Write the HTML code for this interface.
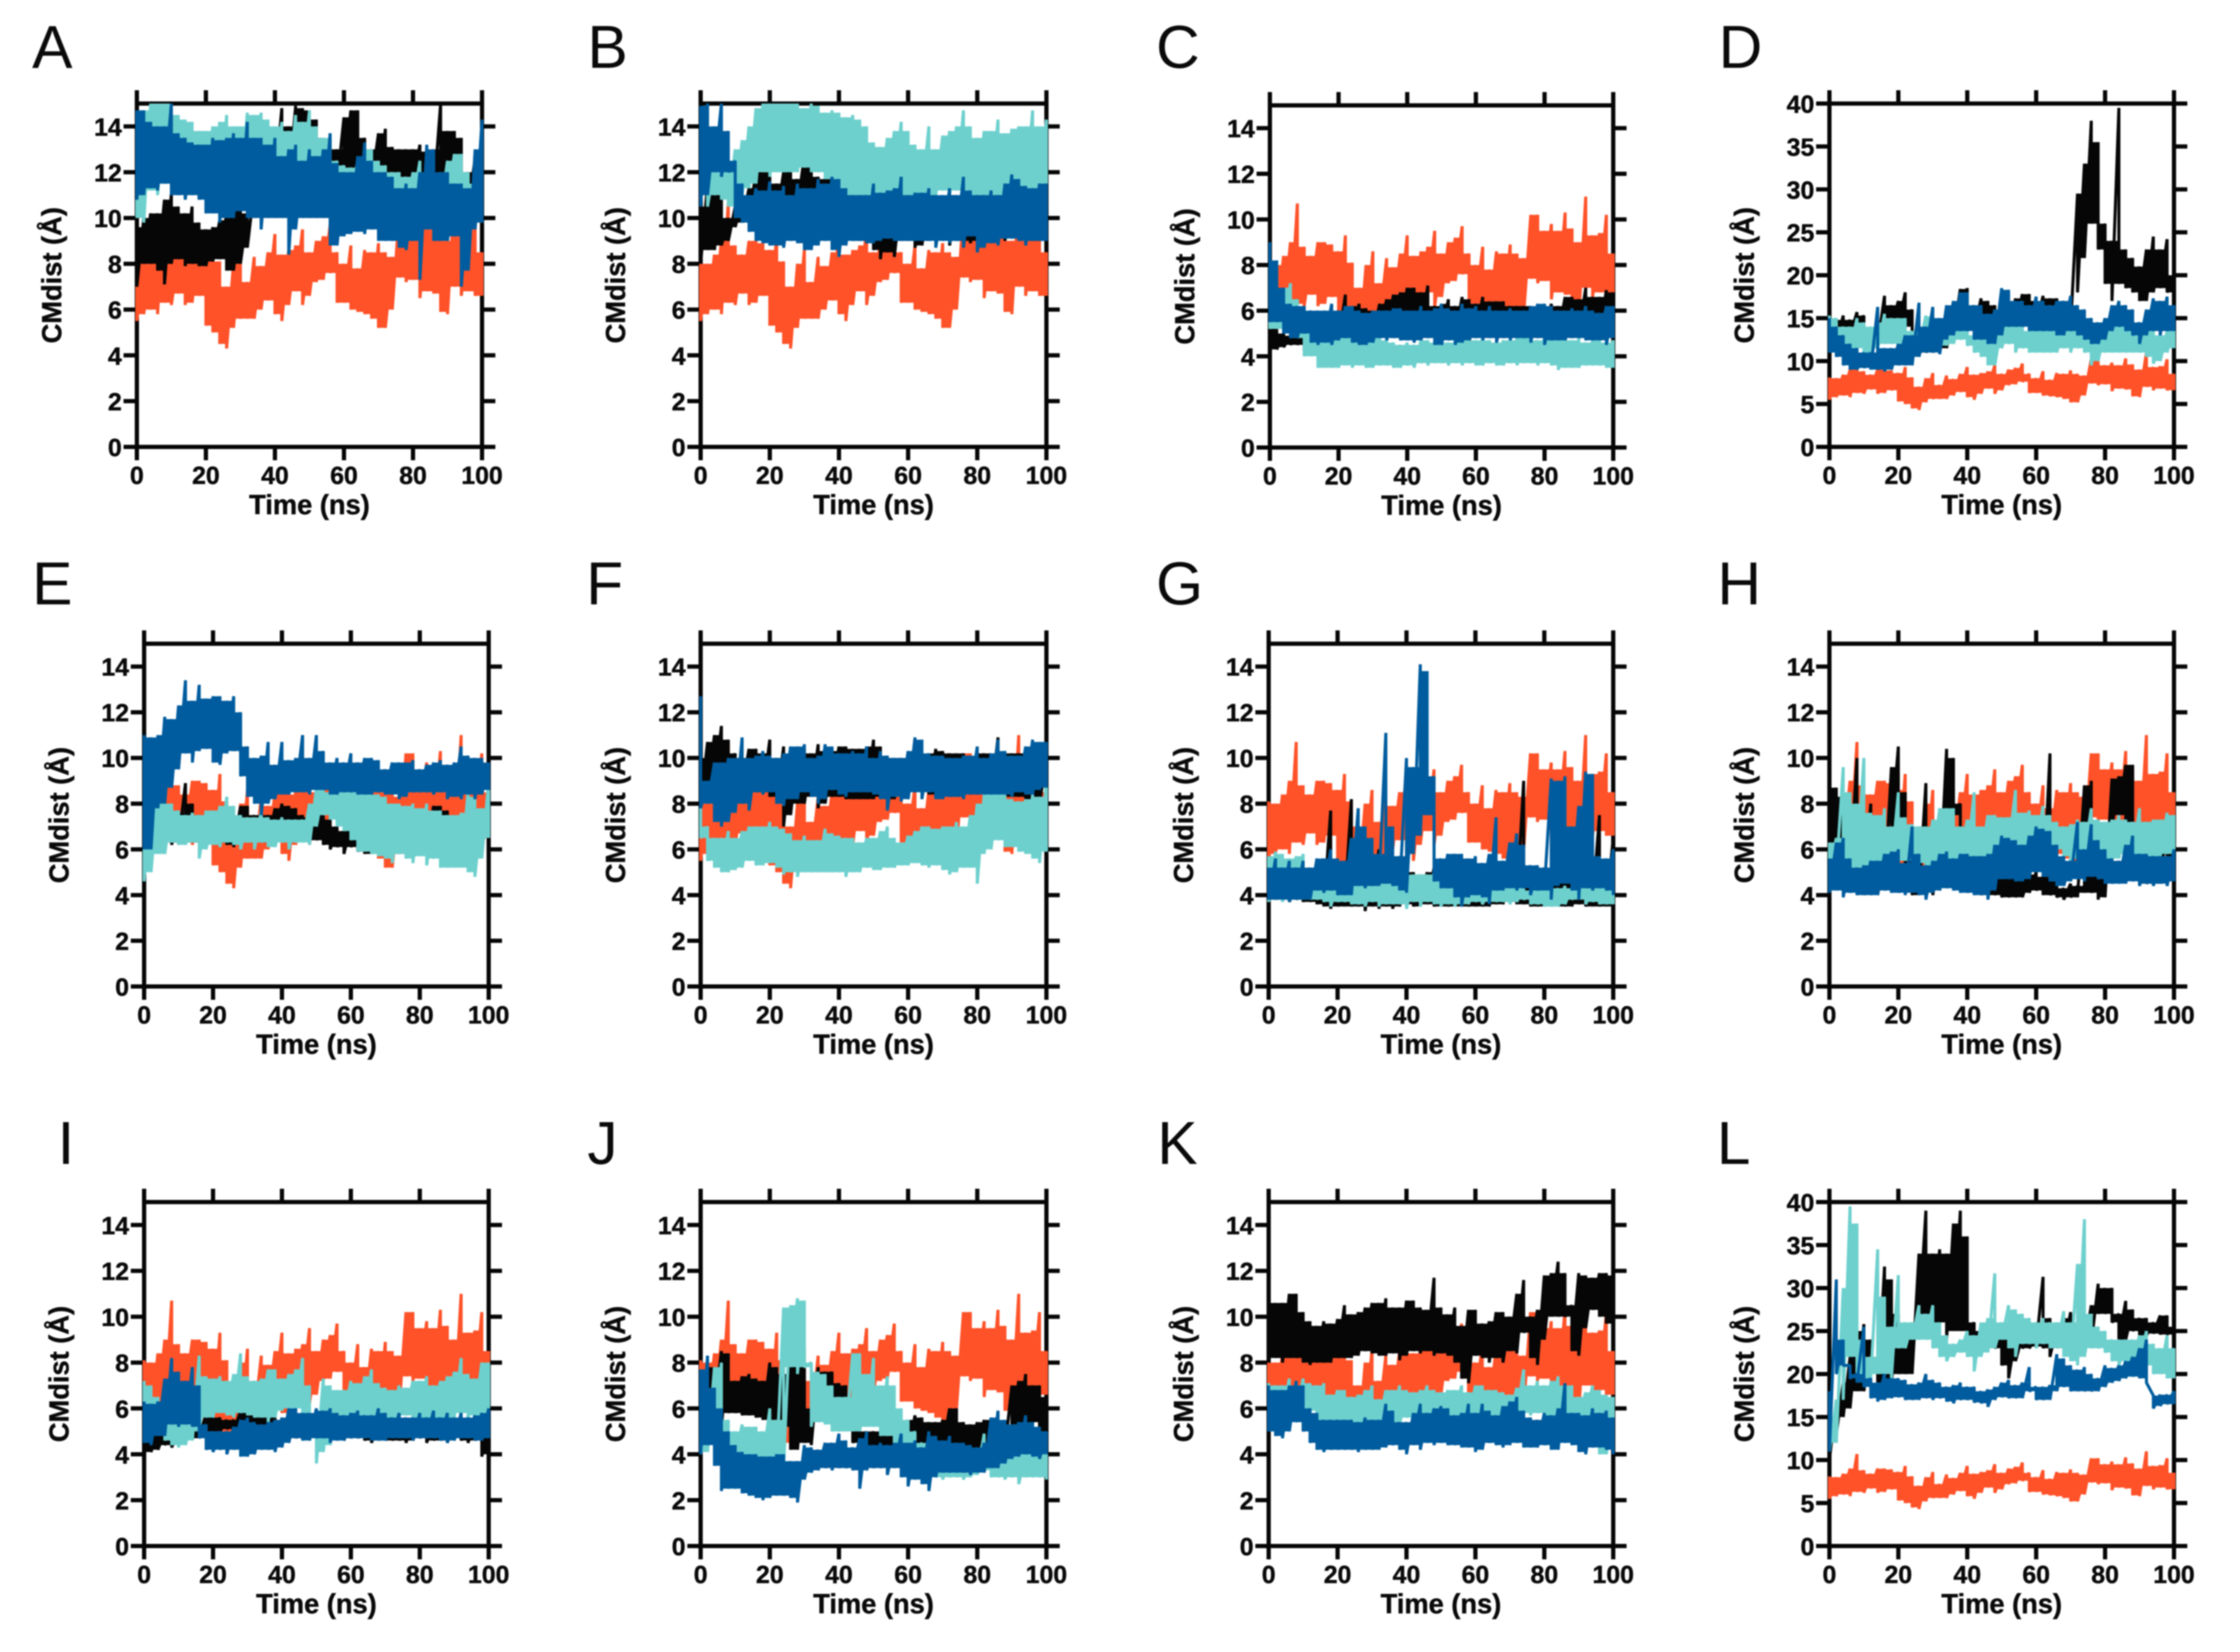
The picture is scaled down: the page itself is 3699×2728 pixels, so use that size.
<!DOCTYPE html>
<html lang="en">
<head>
<meta charset="utf-8">
<title>CMdist over time, panels A to L</title>
<style>
html,body{margin:0;padding:0;background:#fff;width:3699px;height:2728px;overflow:hidden}
svg{display:block;filter:blur(1.1px)}
text{font-family:"Liberation Sans",Arial,sans-serif;fill:#0a0a0a}
text.bold{font-weight:700;stroke:#0a0a0a;stroke-width:0.7px}
</style>
</head>
<body>
<svg id="figure" xmlns="http://www.w3.org/2000/svg" width="3699" height="2728" viewBox="0 0 3699 2728"></svg>
<script>
const xTicks=[0,20,40,60,80,100];
const yTicksShort=[0,2,4,6,8,10,12,14];
const yTicksTall=[0,5,10,15,20,25,30,35,40];
const red=[8.1,5.5,8,5.8,8.4,6,9,5.8,10.7,6.3,8.8,6.2,8.4,6.7,9,6.2,9,6.3,8.9,6.6,8.6,5.3,9.3,5,8.1,4.5,7,4.3,8,5.2,8.6,5.6,7.2,5.6,8.3,5.6,7.9,6,8.5,6.4,9.3,5.8,8.4,5.5,8.6,6.2,8.8,6.8,9.5,6.2,8.5,6.6,9,7.2,9.2,7.3,9.7,7.6,8.5,6.3,8,6.3,8.8,6,7.8,5.9,8.6,5.8,8.5,5.6,8.9,5.2,8.5,5.2,8.3,6,10.2,7.4,10.2,7.2,9.5,7.3,9.8,6.5,9.5,6.8,10.3,6.7,9.6,5.9,9,5.8,11,7,9.3,6.6,9.4,6.8,10.2,6.6,8.5,6.6];
const aBlack=[9.6,7,10,8,10.2,8,10.2,7.7,10.8,7.1,11.1,8,10.5,8.2,10.2,7.9,10.5,8,9.8,7.9,9.5,7.9,9.6,8.1,9.9,8.2,10.2,7.7,10.6,7.7,10.5,8,10.2,8.7,11.3,10.7,12.5,11,13,11.2,13.5,11.5,14.8,12,14,11.5,14.9,11.5,14.8,12,14.7,12,14.3,11.5,13.5,11.5,13,11.5,13,11.5,14.4,12,14.7,12,14.7,12.1,13.5,11.5,13,11.5,13.7,11,13.9,11.3,13.1,11.3,13,11.2,13,11.3,13,11.6,13.2,11.5,12.9,11,13,11,15,11.4,13.8,11,13.8,11.5,13.5,10.8,12,10.5,12.6,10,12.5,9.5];
const aTeal=[14.5,10,14.7,9.8,15,11.2,15,11,15,11.5,15,11,14.5,11.2,14.3,11.2,14.2,11.4,13.8,11,13.8,11.2,14,10.5,14.2,10,14.5,10.5,14,10.5,14,11,14.6,10.5,14.5,10.5,14.6,11,14.3,11,14,11.5,14.2,11.5,13.8,11.5,14.5,11.5,14.2,11.7,14.7,11.8,14,11.5,13.5,11.5,13.5,11.5,12.5,11.5,12.3,11,12.2,11,12.5,10.8,13,10.8,13,10.5,12.5,10.5,12.3,10.5,12,10.5,12,10.5,11.8,10.3,12,10.6,12.5,10.3,12,10.5,11.8,10.5,12,10.4,12.5,10.8,12.8,10.5,12.8,10,12,10.2,11.5,9.8,11,9.8];
const aBlue=[14.7,10.8,14.7,11,14.2,11.3,14,11.2,14,11.5,15,11,13.7,11,13.5,10.8,13.3,11,13.2,10.8,13.2,10.2,13.5,10.2,13.4,9.8,13.5,10,13.7,10,13.5,10.3,14.2,10,13.5,10,13.5,9.5,13.2,10,13.5,10,12.7,10,13,8.4,13.2,9.5,12.5,10,13,10,12.7,10,13,10,13.7,8.8,12.4,8.8,12,9.2,12,9.3,12.7,9.4,13.3,9.3,12.5,9.5,12,9,12,9,11.8,9,11.3,8.7,11.5,8.6,11.3,9,12,7.3,13.2,9.5,13,9,12,9,12,9,11.5,9.2,11.5,7,11.3,7.7,13,9.5,14.3,9.8];
const bBlack=[10.5,8,11.5,8.6,11.5,8.6,11.5,8.8,10,9,10.5,9.6,10.8,9.8,11.3,10,12,10,12.7,10,12,10,11.5,10,12,10.5,12.5,10.4,11.7,10.5,12.7,10.3,12.6,10.3,11.8,10.5,11.7,10,11.8,10,12,10,11.8,9.8,11,9,11,9,11.2,8.9,11,8.6,11,8.2,11.2,8.5,11,8.3,11,9,11,9,11,8.7,10.9,8.8,11,9,11,9.5,10.8,9.2,11,8.8,11,9,10.9,9,11,8.9,11,9,11,9,11,9,11,9.1,11,9,11,9.1,11.5,9.2,11.5,9,11.2,9,11.2,9,11,9];
const bTeal=[13,11,12,10.5,12.3,11,12.4,10.8,12.4,10.5,13,10.5,13.4,11,14,11.3,14.8,11.5,15,12,15,11.8,15,12,15,12,15,12,15,12,14.8,12.2,15,12,14.9,12,14.6,11.7,14.7,11.3,14.6,11,14.4,11,14.5,11,14.3,11,14,10.8,13.3,10.8,13.1,11,13.5,11,13.8,11.2,14.2,11,13.8,11,13.2,11,13,11,14,11,13,11,13.6,11.2,13.8,11,14,11.2,14.7,11.2,14,10.9,13.5,10.8,13.8,11,13.8,11,14.3,11,13.7,11,13.9,11,14,11,14,11,14.7,11,14,10.8,14.3,11];
const bBlue=[14.9,10.5,15,11,14,12,15,11.8,13.8,12,12.5,10,11.5,9.8,11,9.4,11.3,9,11.2,8.9,11.6,8.8,11.2,8.8,11.4,8.7,11,9,11.5,8.9,11.3,8.6,11.3,8.6,11.7,8.8,11.5,9,11.8,8.6,11.7,8.3,11.3,8.8,11,9,11,9,11,8.9,11.5,8.9,11.1,9,11.2,9.1,11.3,9,11.8,9,11,9,11.1,9,11.1,9,11.3,9,11,8.7,11,9,11.3,8.9,11,9,11.8,8.7,11.2,9.2,11,8.5,11,8.7,11.2,8.9,11,8.8,11.5,9.1,11.9,9.1,11.7,9,11.4,8.8,11.3,9,11.5,9,11.5,9];
const cBlack=[5.2,4.3,5.4,4.3,5,4.4,4.9,4.5,5,4.5,5.2,4.2,5,4.2,5.2,4.3,5.2,4.3,6,4.5,6,4.7,6.7,5,6.2,5,6.3,5,6.1,5,6,5,6.3,5,6.5,5,6.7,5,6.8,5,7,5.2,7,5.2,6.8,5.2,7.1,5.2,6.2,5,6.3,5,6.5,5,6.2,5,6.6,5,6.5,4.6,6.3,5,6.6,5,6.4,5.2,6.4,5.2,6.4,5,6.2,5,6.2,5,6.2,5,6.2,5,6.2,5,6.2,5,6.3,5,6.2,5,6.6,5,6.6,5,6.5,5,7,5,6.6,5,6.6,5,6.9,5,6.8,5];
const cTeal=[6.3,5.2,6.5,5.2,7,5.2,7.2,4.8,6.5,4.8,5.5,4,5.5,4,5.2,3.5,5,3.5,4.9,3.5,5,3.5,4.9,3.6,5,3.5,4.8,3.6,4.8,3.5,4.9,3.5,5,3.6,4.7,3.6,4.6,3.5,4.5,3.5,4.6,3.6,4.5,3.5,4.7,3.7,4.7,3.6,4.6,3.7,4.7,3.7,4.6,3.6,4.7,3.7,5,3.6,5,3.7,4.7,3.6,4.8,3.6,4.7,3.7,4.6,3.6,4.7,3.6,4.7,3.7,4.8,3.6,5,3.7,5,3.7,4.7,3.6,4.8,3.7,4.9,3.6,4.7,3.4,4.9,3.5,4.7,3.5,4.8,3.5,4.6,3.6,4.7,3.6,4.7,3.6,4.6,3.5,4.7,3.5];
const cBlue=[9,5.5,8.2,5.5,7,5,6.3,4.8,6.2,4.8,6.2,5,6,4.6,6,4.5,6,4.6,6.3,4.5,6,4.7,6.2,4.8,6.2,4.6,6,4.5,5.9,4.5,6,4.6,6,4.8,6,4.7,6.1,4.8,6.1,4.7,6,4.7,6,4.6,6.2,4.7,6,4.8,6.1,4.5,6.3,4.5,6.1,4.7,6,4.5,6.3,4.6,6.1,4.7,6.2,4.8,6,4.7,6.2,4.8,6,4.6,6,4.8,6.1,4.7,6,4.8,6,4.8,6.2,4.6,6.3,4.8,6.3,4.5,6.2,4.7,6,4.7,6,4.7,6.1,4.8,6,4.8,6.2,4.7,6,4.7,5.9,4.7,6.2,4.5,6.2,4.8];
const dBlack=[15,10.5,14.8,12,15.3,13,14.8,13,15.7,14,15.3,13,13,11.5,14,12,17.6,13,16.5,14,17,14,18,14,16,11,12,10.8,12,11,12.5,11,13,11.5,15,11.5,16,13,18.4,14,18.5,14,16.5,13.5,17.3,13,17,13,16.5,13,16,13,16,13,17.3,14,17.8,14,17.8,14,17,14,17.6,14,17.3,14,17.3,13,17,13.5,17.5,14,29.5,18,33,22,38,26,35.5,23,26,19,24,17,39.5,19,23,18.5,22,18,21,17,23,17,24.5,18,23,18.5,24.2,18,20,16];
const dTeal=[15.3,13,15,12,14,11,14,11,15,11.5,14.5,11,14,11,14.5,11.5,15.5,12,15,12,15,11.5,15,11.5,13.5,11,14,11.5,15.3,11.5,15.2,12,15,11.5,14.5,11.8,14.5,12,15,12.5,14.5,11.8,13,11,13,10.5,14,9.5,15,9.5,14.5,11.5,14.5,12,14,11,14,11.5,13.5,11,14,11,13.5,11,14,11,14,11,14.5,11.5,14,11,14.5,11.5,14,11,13,9.5,14,10,14,11,14.5,11,14.5,11,14,11,14,11,14.5,11,13.5,10.5,14,9.7,13,10,13.5,11,14,11.5];
const dBlue=[15,11,14,10.5,13,9.5,12,9,11.5,9,11,9.2,11,9,16.3,9,11.5,8.8,11.5,9,12,9.5,13,9.5,13,9.5,16.8,10.5,14,11,16.3,11,15,10.8,16.5,12.5,17,13,18,13.5,18,13.5,16.5,12.5,16.5,12.5,15.5,12,16,12,18.5,13,18.3,14,17,14,17,14,16.5,13.5,17.5,13.5,17,13.5,16.5,13.5,17,13,17,13,17.6,13.5,16.5,13,16,12.5,15,12,14.5,12,15,12.5,16.5,13.5,17,14,16.5,13.5,16,13,14.5,12,16,13,17.3,13.5,17,13,17.5,13.5,16.5,13.5];
const eBlack=[8,6,8,7.2,8,6.3,7.5,6.4,7.5,6.2,7.6,6.3,8.9,6.3,8,6.3,7.5,6.1,7.3,6.2,7.6,6.3,7.8,6.3,7.6,6.2,7.5,6.1,7.9,6.5,7.9,6.4,7.5,6.5,7.5,6.3,7.5,6.3,7.8,6.4,8,6.5,7.9,6.5,7.8,6.4,7.5,6.4,7.4,6.4,7.6,6.4,7.7,6.2,7.3,6,7,6.1,6.8,5.8,7.1,6.1,6.8,5.9,6.8,5.8,8.1,5.8,7.5,5.9,7,5.7,7.6,5.8,7.2,5.8,7.5,5.8,7.7,6,7.7,6,7.5,5.8,7.9,5.6,7.9,5.8,7.7,6,7.5,6,7.5,6.1,7.3,6.4,7.2,6,7.2,6.2,7.2,6.6];
const eTeal=[7,4.6,9,5,8.5,5.8,8.5,5.8,8,6.3,7.7,6.2,7.5,6.2,7.6,6.3,7.5,5.6,7.7,6,7.7,6.2,7.9,6.1,8.3,6.3,7.9,6.2,7.5,6,7.4,6.3,7.4,6,7.7,6.3,7.4,6.1,7.3,6.1,7.4,6.3,7.3,6,7.3,6.3,7.3,6.3,8,6.2,8.7,7,8.6,7.5,8.5,7.3,8.5,7,8.5,6.8,8.5,6.4,8.6,5.9,8.5,5.9,8.5,5.8,8.4,5.7,8.3,5.6,8,5.4,8,5.8,7.9,5.6,8,5.4,7.8,5.7,8,5.3,7.7,5.6,7.7,5.2,7.5,5.2,7.5,5.2,7.6,5.2,8.5,5,8.3,4.8,7.8,5.6,9,6.5];
const eBlue=[11,6,10.9,6,11,7.8,11.8,8,11.7,8.7,12.3,9.5,13.4,10.2,12.5,9.8,13.2,10.3,12.6,10.4,12.7,9.8,12.7,9.7,12.5,10.2,12.7,10.3,12,9.2,10.5,8.3,10,8,10.1,7.5,10.7,8,9.7,8.2,10.7,8.4,9.9,8.4,10,8.5,11,8.5,10,8.4,11,8.6,10.3,8.6,9.8,8.4,10,8.4,9.8,8.5,10.2,8.5,9.8,8.4,10,8.4,10,8.4,9.9,8.5,9.5,8.4,9.8,8.4,9.8,8.2,9.8,8.3,9.9,8.5,9.5,8.5,9.7,8.5,9.8,8.4,9.9,8.5,9.7,8.2,9.8,8.3,10.5,8.2,10.1,8.4,10,8.2,10,8.4,9.8,8.6];
const fBlack=[10,8,10.7,8.5,11,8.7,11.4,8.8,10.8,9.2,10.2,8.5,10,8.6,10.4,8.6,10.4,8.5,10.2,8.5,10.8,8.3,10,8,10.5,7,10.1,7.5,10.2,8,10.4,8,10.2,8.3,10.6,7.8,10.3,8,10.3,8.3,10.5,8.3,10.5,8.2,10.4,8.2,10.4,8.2,10.5,8.2,10.8,8.2,10.5,8.3,10,8.2,10,8.2,10,8.4,10.2,8.2,10.5,8.7,9.5,9,10.2,8.4,10.4,8.3,10.3,8.5,10.2,8.3,10.2,8.3,10.2,8.3,10,8.4,10.2,8.4,10.2,8.3,10.2,8.3,10.9,8.4,10.2,8.3,10.2,8.3,10.2,8.3,10.4,8,10.3,8,10.2,8,10,9];
const fTeal=[8.5,6.5,7,5.5,6.5,5.2,6.5,5,6.8,5,6.5,5.1,6.8,5.2,7,5.5,7,5.3,7,5.3,7.2,5.4,7,5.2,6.9,4.9,6.7,5,6.4,4.8,6.6,5,6.4,5,6.4,5,6.9,5,6.7,5,6.6,5,6.5,4.8,6.5,5,6.3,5,6.5,5.2,6.5,5.1,6.8,5.1,7,5.2,6.5,5.2,6.3,5.3,6.6,5.3,6.8,5.4,7,5.3,7,5.2,6.9,5.3,7,5.1,7,4.9,7.2,5,7,5.2,7.5,5.2,8,4.5,8.4,5.8,8.5,6,8.6,6.4,8.4,6.1,8.2,6.1,8.1,5.9,8.2,5.8,8.4,5.6,8.3,5.4,9,5.9];
const fBlue=[12.7,7.8,9,8,9.8,7.2,9.8,7,10,7.2,10,7.6,10.9,8,10,7.7,10.1,8.5,10.3,8.4,10.1,8.5,10,8,10.2,7.9,10.5,8.2,10.5,8.2,10.6,8.5,10,8.3,10.1,8,10.6,8.2,10.5,8.6,10.2,8.4,10.2,8.3,10.3,8.5,10.2,8.5,10.5,8.5,10,8.4,10.3,8.2,10.1,7.7,10,8.3,10,8.1,10.3,8.2,10.9,8.5,10.8,8.2,10.2,8.5,10.1,8.2,10.1,8.2,10,8.3,10,8.3,10.1,8.2,10.1,8.4,10.5,8.4,10,8.4,10.2,8.4,10.8,8.4,10.3,8.4,10.1,8.3,10.1,8.5,10.5,8.4,10.8,8.4,10.7,8.6,10.7,8.7];
const gBlack=[5,3.8,4.7,3.8,5,3.8,4.5,3.7,4.6,3.8,4.5,3.7,4.9,3.7,4.8,3.6,5.5,3.5,7.7,3.4,5,3.5,5,3.5,8.2,3.5,5,3.5,5,3.3,5.5,3.5,6,3.4,5.1,3.5,5,3.4,5,3.5,5,3.6,5,3.5,4.9,3.5,5,3.6,5.2,3.5,5,3.5,5,3.5,5,3.5,5,3.5,5,3.5,5,3.5,5,3.5,5,3.5,5,3.6,5,3.6,5,3.7,5.5,3.6,9,3.6,5.2,3.5,5,3.5,5,3.5,5,3.5,5,3.5,5,3.5,5,3.5,5,3.6,5,3.5,5,3.5,7.5,3.5,5.2,3.5,6.5,3.5];
const gTeal=[5.7,3.7,5.9,3.8,5.8,3.7,5.6,3.8,5.7,3.8,5.8,3.8,5,3.8,4.5,3.8,4.6,3.7,4.6,3.5,4.5,3.7,4.5,3.7,4.5,3.6,4.6,3.6,4.4,3.5,4.5,3.7,4.5,3.5,4.7,3.6,4.7,3.6,4.7,3.6,4.9,3.4,4.9,3.7,4.9,3.5,4.9,3.7,5,3.6,4.6,3.5,4.5,3.6,4.5,3.5,4.3,3.6,4.2,3.6,4.5,3.7,4.4,3.6,4.2,3.7,4.5,3.7,4.4,3.7,4.5,3.6,4.5,3.7,4.4,3.8,4.2,3.6,4.2,3.6,4.2,3.5,4.3,3.5,4.3,3.5,4.4,3.6,4.3,3.8,4.3,3.8,5.4,3.6,4.3,3.7,4.5,3.6,4.5,3.6,4.5,3.6];
const gBlue=[5.2,3.8,5.6,3.8,5.2,3.8,5.5,3.7,5.2,3.8,5.5,3.8,5.2,3.8,5.6,4.2,5.6,4.1,6,4.2,5.6,4,5.5,4,6.5,4,7.8,4.4,7,4.3,6.5,4.4,5.8,4.4,11.1,4.5,7,4.4,5.7,4.2,10,4.1,9.6,5.8,14.1,6.6,13.8,7.5,9.2,4.6,5.6,4.3,5.8,4.3,5.8,3.9,5.8,3.5,5.6,3.9,5.7,4,5.4,3.9,5.8,3.6,7.4,4.2,5.5,4.2,6.3,4.3,6.7,4.2,6.2,4.3,5.3,4,5.3,4.2,5.2,4.2,9.1,3.8,9,4.4,9.2,4.5,7,4.2,7.9,3.8,9.4,4.3,9.3,4.2,5.7,4.3,5.6,4.2,6,4];
const hBlack=[9.4,6,8.7,6,8.3,5.7,7,5,10,6.4,6,4.2,8,4.2,7,4.2,6,4.2,9.6,6.8,10.5,7,8.5,5,6,4,5.5,4,8.9,6.8,6,4,6,4.2,10.4,7.5,10,7.5,8,6,5.5,4.1,5.5,4.2,5,4,5,4,5,4,4.9,3.9,4.8,3.9,4.8,3.9,4.9,3.9,4.9,4.1,5,4.2,4.8,4,10.2,4,4.6,3.9,4.3,3.8,4.5,3.9,4.4,3.9,8.8,4.1,9,4.1,5,3.8,7,3.9,9.1,6.9,9.2,7.5,9.7,7,9.7,6.8,5.5,4.5,5,4.5,5,4.5,5,4.5,7.2,4.6,6,4.5];
const hTeal=[6.3,5,6.5,5,9.6,5.5,8.5,5.2,8,5.2,10,5.2,7.6,5,7.5,5,7.8,5.3,7,5.2,8.5,5.5,7.4,5.5,7.1,5.3,7,5.4,7,5.3,7.3,5.3,7.8,5.4,7.8,5.4,7.8,5.5,7,5.5,7.3,5.6,8.5,5.5,7,5.5,7.5,5.4,7.5,5.5,7.4,6,7.4,6,8.6,6,7.6,6,7.7,6,7.5,6,7.9,6,7.5,6,7.2,6,7,5.7,7.1,5.4,7.3,5.6,7.2,5.8,7.8,5.7,7.3,5.5,7.2,5.5,7.3,5.5,7.5,5.6,7.3,5.8,7.2,5.6,7.8,5.5,7.2,5.6,7.3,5.6,7.3,5.7,7.6,5.8,7.5,5.8];
const hBlue=[5.6,4.1,6.3,4.2,6.5,3.9,5.6,4.1,5.2,4,5.3,4,5.5,4,5.5,4,5.8,4.2,5.9,4.1,6,4.1,5.4,4,7,4.1,5.8,4,5.3,3.8,5.5,4.1,5.8,4.2,5.9,4.3,5.6,4.2,5.8,4.1,5.8,4.1,5.7,4,5.7,4,5.8,3.8,6.2,4.2,6.6,4.7,6.5,4.7,6.4,4.6,6.2,4.6,6.6,4.7,7,5,6.9,4.8,6.8,4.6,6.2,4.4,5.7,4.4,5.5,4.6,7.2,4.7,6,4.6,7.1,4.8,6.4,4.7,6,4.5,5.6,4.5,5.5,4.5,6.2,4.5,6.6,4.6,5.8,4.4,5.8,4.5,5.7,4.4,5.7,4.5,5.7,4.4,6,4.6];
const iBlack=[5.5,4,5,4.1,5,4.2,5,4.4,5,4.3,5,4.5,5,4.6,5,4.7,5.2,4.7,5.8,5,5.7,5,5.6,5,5.5,5.1,5.5,5,5.9,4.8,5.9,4.6,5.7,4.8,5.7,5,5.6,5,5.8,5,5.5,4.7,5.5,4.7,5.5,4.7,5.5,4.7,5.8,4.7,5.7,4.7,5.5,4.5,5.5,4.7,5.5,4.7,5.5,4.6,5.5,4.7,5.5,4.7,5.5,4.6,5.5,4.5,5.5,4.6,5.6,4.6,5.5,4.6,5.5,4.6,5.5,4.5,5.5,4.6,5.5,4.7,5.5,4.5,5.5,4.6,5.5,4.6,5.5,4.5,5.5,4.7,5.5,4.6,5.5,4.5,5.5,4.6,5.3,3.9,5.3,4];
const iTeal=[7.2,5,7,4.8,6.5,5,5.3,4.6,5.8,4.4,5.7,4.3,6,4.4,5.8,4.6,8.3,5,7.4,5.6,7.3,5.6,7.4,5.8,7.2,5.7,7.5,5.6,8.4,5.8,7.4,5.7,7.2,5.6,7.3,5.6,7.7,5.4,7.7,5.6,7.3,5.9,7.5,6,7.7,6,8.2,5.7,7,5.5,5.5,3.6,7.3,4.1,7,4.4,6.8,5.7,6.8,5.7,7.2,5.7,7.1,5.6,7.4,5.7,7.7,5.7,7.1,5.6,6.9,5.5,6.8,5.5,7,5.6,6.9,5.7,7.2,5.6,7.2,5.6,7.4,5.6,7,5.5,7.2,5.5,7.4,5.4,7.6,5.6,8.2,5.8,7.5,5.5,7.3,5.7,8,5.7,8,5.8];
const iBlue=[6.3,4.5,6.2,4.4,6.3,4.8,7.3,4.8,8.2,5.3,7.6,5.2,7.2,5.3,7.8,5.2,7,4.7,5.3,4.2,5,4.1,5,4.2,5,4,5.2,4.2,5.5,3.9,5.6,3.9,5.4,4,5.3,4.2,5.4,4.2,5.5,4.1,5.6,4.3,6,4.5,6,4.7,5.8,4.6,5.8,4.6,6,4.7,5.9,4.7,6,4.5,5.8,4.6,5.7,4.6,5.8,4.7,5.9,4.7,5.7,4.7,5.7,4.6,6,4.6,5.8,4.6,5.6,4.7,5.8,4.7,5.6,4.7,5.6,4.6,5.8,4.7,5.6,4.7,5.9,4.7,5.6,4.6,5.8,4.5,5.6,4.6,5.8,4.7,5.6,4.7,5.7,4.6,5.8,4.6,6,4.7];
const jBlack=[7.5,5,7.8,6,7.8,6,8.5,5.2,8.4,5.8,7.2,5.8,7.4,5.7,7.5,5.7,7.3,5.6,7.2,5.5,8,5.5,7.8,5.5,7.5,5.2,8,4.2,8.1,4.2,7.8,4.5,6,4.4,7.8,6.5,7.6,6.7,7.6,6,7.1,6.2,7,6.4,6,4.5,5.2,4.1,5,4.2,5,4.3,5,4.2,5,4.1,5,4.2,5,4.2,5.5,4.1,5.7,4.3,5.6,4.2,5.4,4.1,5.4,4.2,5.5,4.2,6,4.3,6,4.2,5.4,3.8,5.3,4.2,5.4,4,5.5,4.4,5.5,4.2,5.4,4.2,5.3,4.2,7,5.3,7.2,5,7.5,5.2,7,5.4,7,5,6.5,4.8];
const jTeal=[7,4,6,4.1,7.8,4.7,8,4,5.5,3.6,5,3.8,5.3,3.8,5.2,3.7,5.2,3.8,5,3.7,6,3.6,5.5,3.7,10.4,3.4,10.5,7.8,10.8,7.5,10.7,7.8,8,5.2,7.6,5.4,7.5,5.3,7,5,6.5,5,6.5,5,8.4,5,8.4,5,7.5,5.2,8.2,5.2,7,4.8,7.4,4.8,7,4.4,6,4.5,5.5,4.5,5,4,4.5,3.6,4.5,3.5,4,3,4,2.9,4,3,3.8,3,4,2.9,3.8,3,4.2,3.1,4.9,3.3,4.2,3,4,3,4,2.9,4,3,4,2.7,4.1,3,4,3,4,3,4,2.9];
const jBlue=[7.7,4,8.3,4.4,6.9,3.5,6,2.4,5,2.5,4.4,2.5,4.1,2.3,4,2.2,4,2.1,3.9,2,3.9,2.1,4,2.2,4,2.2,3.7,2.1,3.7,1.9,4.4,2.9,4.3,3.2,4.2,3.3,4.5,3.4,4.5,3.3,4.9,3.4,4.6,3.4,4.3,3.3,4.7,2.5,5,3.3,4.4,3.4,4.5,3.4,4.4,3.1,4.5,3.4,4.9,3,4.5,2.6,4.6,2.9,4.3,2.7,5,2.4,4.8,3,4.6,3.2,4.8,3.2,4.5,3.2,4.5,3.2,4.4,3.1,4.3,3.2,4.5,3.2,5.6,3.4,5.9,3.4,5.5,3.6,5.3,3.8,5.4,3.9,5.7,4,5.4,3.9,5.2,3.8,5,4];
const kBlack=[10.7,8,10.6,8.2,10.6,8,11,8.2,11,8.2,10.2,8,9.8,7.9,9.6,8,9.8,8,9.7,8,9.9,8.2,10.5,8.2,10.1,8.2,10.2,8.3,10.4,8.5,10.6,8.4,10.6,8.3,10.8,8.3,10.4,8.4,10.4,8.1,10.7,8.3,10.7,8.5,10.4,8.4,10.3,8.5,11.7,8.3,10.4,8.4,10.1,8.3,10.4,8,9.6,7.3,10.3,7.1,10.3,8.3,9.7,8.2,9.8,8,10.2,8.2,10.2,8,10,8.5,11,8.4,11.6,9.3,10,8.2,10.3,7.9,11.8,9,11.9,10,12.4,10,11.9,10,10.5,8.5,11.9,8.3,11.8,9.5,11.7,10.3,11.9,10,11.9,9.7,11.8,9.3];
const kTeal=[7.1,5.6,7,5.9,7,5.8,7.3,5.8,7,5.7,7.3,5.6,7.1,5.9,7,5.5,7.1,5.5,6.6,5.5,6.8,5.4,6.8,5.3,6.5,5.3,6.6,5.3,6.8,5.3,7,5.3,6.4,5.3,6.8,5.3,6.8,5.4,7,5.3,6.8,5.6,6.7,5.5,6.8,5.8,7,5.8,6.8,5.7,6.7,5.6,6.8,5.4,6.8,5.6,7,5.5,6.7,5.4,7,5.5,7,5.6,6.8,5.6,6.8,5.6,6.7,5.4,6.6,5.6,6.9,5.7,7.7,5.8,7,5.7,7.2,5.8,7,5.4,7.2,5.6,7.4,5.7,7,5.8,7,5.6,6.5,5.6,6.7,5.5,7,5.4,6.8,4,6.6,4,6.5,4.2];
const kBlue=[7,5,6.8,4.8,6.8,4.7,7,5,7.2,5.4,7,5,6,4.5,5.8,4.2,5.5,4.1,5.5,4.2,5.5,4.2,5.5,4.2,5.5,4.2,5.4,4.1,5.6,4.2,5.5,4.2,5.5,4.2,6.2,4.3,5.9,4.4,5.4,4.2,5.4,4,5.8,4.4,6.2,4.2,5.8,4.5,6,4.4,6.1,4.5,6,4.4,5.7,4.4,5.8,4.3,6.2,4.3,5.8,4.1,6.2,4.2,5.9,4.5,5.7,4.4,6.1,4.3,6.3,4.4,6.5,4.5,5.9,4.3,5.6,4.3,5.5,4.3,5.8,4.4,5.7,4.2,6,4.2,7.1,4.5,5.8,4.4,5.8,4.1,5.7,4,6,4.3,5.8,4.3,5.9,4.2,5.6,4];
const lBlack=[10,10,17,13,19,15,22,16,25,18,25.8,18,24,20,22,18,32.5,19,31,19,27,20,25,20,25,20,34,26,39,26,34,26,34.5,26,34,24,37.5,25,39,25,36,24.5,26,23,25,23,25,23,24.5,23,24,21,24,19.5,24.5,21.5,24.5,23,24,23,24.2,23.2,31.3,23,26.5,22,25.5,23,26.5,23,27.2,23,26,23,26.5,23,28,23.5,30.5,27,30,27,30,26,27,24,28.5,24,27.5,25,26.5,24.5,26.5,24.5,26,24.7,26.8,24.6,26.8,24.6,25.5,24];
const lTeal=[15,11,17,12,30,17,39.5,22,37.5,20,24,19,22,19.5,34.5,20,29,20,25.5,19.5,31.5,23,26,23,26,24,28,24,27,24,28,23,26,22,24.5,21.5,23.5,22,24,22.5,25,22,24.5,20.3,26,22,26.5,22.5,31.7,23,26,24,28,23,27.5,22,27,23.5,26.5,23.5,26,23,26.5,23.5,26,23,26,23,27.3,22,26,21.5,32.8,21,38,22,27,23,25.5,23,25,22.5,24,21.5,24,21,24,21.5,24,21.5,24.5,21.5,25,21,23.5,20,23,20,24.5,19.5,23,19.5];
const lBlue=[18,11,31,20,24,21,21,19.5,20,19,25.5,18.5,19.5,17.2,19,16.8,20,17,19.5,17.2,19.5,17.3,19.3,17,18.8,17,19,17,20,17.2,19.3,17,19,17.2,18.5,16.8,18.7,16.6,19,17,18.5,17,18.5,16.7,18,16.6,18.2,16.2,18.5,17,19,17.3,19.3,17.2,18.7,17.2,19,17.2,20.8,18,18.5,17,18.5,17,18.7,17,22.3,18,21.8,18.5,21,18,20.5,18,20.8,18,20,18,19.5,18,21,18.5,20.7,19,21,19.2,21.5,19.5,22,19.7,23,19.5,24,19,17.5,16,17.6,16.3,17.6,16.5,18,16.5];

const panelLetters=['A','B','C','D','E','F','G','H','I','J','K','L'];
const panelTraces=[
 [aBlack,aTeal,aBlue],[bBlack,bTeal,bBlue],[cBlack,cTeal,cBlue],[dBlack,dTeal,dBlue],
 [eBlack,eTeal,eBlue],[fBlack,fTeal,fBlue],[gBlack,gTeal,gBlue],[hBlack,hTeal,hBlue],
 [iBlack,iTeal,iBlue],[jBlack,jTeal,jBlue],[kBlack,kTeal,kBlue],[lBlack,lTeal,lBlue]
];
const panelScaleMax=[15,15,15,40,15,15,15,15,15,15,15,40];

/* layout only */
const frames=[
 {l:226,r:796,t:171,b:738,lx:53,ly:112},{l:1157,r:1728,t:171,b:738,lx:970,ly:112},
 {l:2097,r:2664,t:174,b:739,lx:1909,ly:112},{l:3021,r:3590,t:171,b:738,lx:2838,ly:112},
 {l:238,r:807,t:1063,b:1629,lx:53,ly:998},{l:1157,r:1728,t:1063,b:1629,lx:968,ly:998},
 {l:2095,r:2664,t:1063,b:1629,lx:1909,ly:998},{l:3021,r:3590,t:1063,b:1629,lx:2836,ly:998},
 {l:238,r:807,t:1985,b:2553,lx:95,ly:1922},{l:1157,r:1728,t:1985,b:2553,lx:970,ly:1922},
 {l:2095,r:2664,t:1985,b:2553,lx:1911,ly:1922},{l:3021,r:3590,t:1985,b:2553,lx:2835,ly:1922}
];
const NS='http://www.w3.org/2000/svg';
const fig=document.getElementById('figure');
function make(tag,parent){const el=document.createElementNS(NS,tag);parent.appendChild(el);return el;}
function seg(parent,x1,y1,x2,y2,w){
 const s=make('line',parent);
 s.setAttribute('x1',x1);s.setAttribute('y1',y1);s.setAttribute('x2',x2);s.setAttribute('y2',y2);
 s.setAttribute('stroke','#060606');s.setAttribute('stroke-width',w);
 return s;
}
/* Spike outline: each high,low pair is a vertical stroke at its own time. */
function spikePoints(values,xAxis,yAxis){
 const m=Math.floor(values.length/2),out=[];
 for(let i=0;i<m;i++){
  const x=xAxis(i*100/(m-1)).toFixed(1);
  out.push(x+','+yAxis(values[2*i]).toFixed(1));
  out.push(x+','+yAxis(values[2*i+1]).toFixed(1));
 }
 return out.join(' ');
}
/* Solid core: the range shared by two neighbouring high,low pairs. */
function corePath(values,xAxis,yAxis){
 const m=Math.floor(values.length/2);let d='';
 for(let i=0;i<m-1;i++){
  const hi=Math.min(values[2*i],values[2*i+2]);
  const lo=Math.max(values[2*i+1],values[2*i+3]);
  if(hi>lo){
   const a=xAxis(i*100/(m-1)).toFixed(1),b=xAxis((i+1)*100/(m-1)).toFixed(1);
   d+='M'+a+' '+yAxis(hi).toFixed(1)+'L'+b+' '+yAxis(hi).toFixed(1)+'L'+b+' '+yAxis(lo).toFixed(1)+'L'+a+' '+yAxis(lo).toFixed(1)+'Z';
  }
 }
 return d;
}
panelLetters.forEach(function(letter,p){
 const f=frames[p],max=panelScaleMax[p];
 const xAxis=function(t){return f.l+(t/100)*(f.r-f.l);};
 const yAxis=function(v){return f.b-(v/max)*(f.b-f.t);};
 const g=make('g',fig);
 
 

 const head=make('text',g);
 
 
 head.setAttribute('x',f.lx);head.setAttribute('y',f.ly);
 head.setAttribute('font-size','100');
 head.textContent=letter;

 const axes=make('g',g);
 
 
 const w=7,tk=22;
 seg(axes,f.l,f.t-tk,f.l,f.b+tk,w);
 seg(axes,f.r,f.t-tk,f.r,f.b+tk,w);
 seg(axes,f.l,f.t,f.r,f.t,w);
 seg(axes,f.l-tk,f.b,f.r+tk,f.b,w);

 const yTicks=max===40?yTicksTall:yTicksShort;
 yTicks.forEach(function(v){
  const y=yAxis(v);
  const left=seg(axes,f.l-tk,y,f.l,y,w);
  
  
  const right=seg(axes,f.r,y,f.r+tk,y,w);
  
  
  const lab=make('text',g);
  
  
  lab.setAttribute('class','bold');
  lab.setAttribute('x',f.l-25);lab.setAttribute('y',y+15);
  lab.setAttribute('text-anchor','end');lab.setAttribute('font-size','41');
  lab.textContent=String(v);
 });
 xTicks.forEach(function(t){
  const x=xAxis(t);
  const top=seg(axes,x,f.t-tk,x,f.t,w);
  
  
  const bot=seg(axes,x,f.b,x,f.b+tk,w);
  
  
  const lab=make('text',g);
  
  
  lab.setAttribute('class','bold');
  lab.setAttribute('x',x);lab.setAttribute('y',f.b+61);
  lab.setAttribute('text-anchor','middle');lab.setAttribute('font-size','41');
  lab.textContent=String(t);
 });

 const xTitle=make('text',g);
 
 
 xTitle.setAttribute('class','bold');
 xTitle.setAttribute('x',(f.l+f.r)/2);xTitle.setAttribute('y',f.b+111);
 xTitle.setAttribute('text-anchor','middle');xTitle.setAttribute('font-size','45');
 xTitle.textContent='Time (ns)';

 const yTitle=make('text',g);
 
 
 yTitle.setAttribute('class','bold');
 const yx=f.l-125,yy=(f.t+f.b)/2;
 yTitle.setAttribute('x',yx);yTitle.setAttribute('y',yy);
 yTitle.setAttribute('transform','rotate(-90 '+yx+' '+yy+')');
 yTitle.setAttribute('text-anchor','middle');yTitle.setAttribute('font-size','45');
 yTitle.textContent='CMdist (Å)';

 const clip=make('clipPath',g);
 clip.setAttribute('id','clip-'+letter);
 const cr=make('rect',clip);
 cr.setAttribute('x',f.l-4);cr.setAttribute('y',f.t);cr.setAttribute('width',f.r-f.l+8);cr.setAttribute('height',f.b-f.t);

 const plot=make('g',g);
 
 
 plot.setAttribute('clip-path','url(#clip-'+letter+')');
 const seriesList=[red,panelTraces[p][0],panelTraces[p][1],panelTraces[p][2]];
 const colors=['#FF5229','#060606','#6DD0CD','#005C9E'];
 const names=['red-trace','black-trace','teal-trace','blue-trace'];
 seriesList.forEach(function(values,s){
  const core=make('path',plot);
  
  
  core.setAttribute('d',corePath(values,xAxis,yAxis));
  core.setAttribute('fill',colors[s]);
  const line=make('polyline',plot);
  
  
  line.setAttribute('points',spikePoints(values,xAxis,yAxis));
  line.setAttribute('fill','none');
  line.setAttribute('stroke',colors[s]);
  line.setAttribute('stroke-width','5');
  line.setAttribute('stroke-linejoin','bevel');
 });
});
</script>
</body>
</html>
